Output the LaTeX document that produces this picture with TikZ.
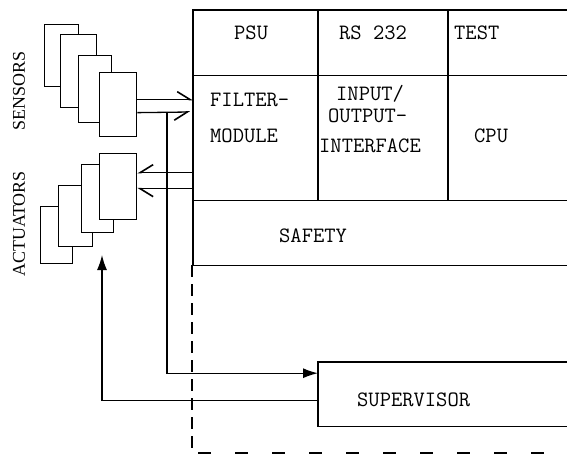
\documentclass[tikz,border=0pt]{standalone}
\usepackage{fontspec}
\setmainfont{Liberation Serif}
\usetikzlibrary{arrows.meta}
\begin{document}
\begin{tikzpicture}[x=1bp,y=-1bp,
  frame/.style={line width=1.5bp},
  unit/.style={draw, fill=white, line width=1.3bp, inner sep=0pt, anchor=north west},
  cell/.style={inner sep=0pt, anchor=north west},
  lbl/.style={font=\ttfamily\fontsize{22}{24}\selectfont, inner sep=0pt, anchor=base west},
  side/.style={font=\fontsize{18}{20}\selectfont, inner sep=0pt, rotate=90},
  barbl/.style={line width=1.3bp, -{Straight Barb[harpoon,length=13bp,width=16bp,line width=1.6bp]}},
  barbr/.style={line width=1.3bp, -{Straight Barb[harpoon,swap,length=13bp,width=16bp,line width=1.6bp]}},
  solidarrow/.style={line width=1.3bp, -{Latex[length=15bp,width=10bp]}}]
\useasboundingbox (0,0) rectangle (567,454);

% sensors
\node[unit, minimum width=34bp, minimum height=62bp] (s1) at (44,24) {};
\node[unit, minimum width=36bp, minimum height=73bp] (s2) at (60,34) {};
\node[unit, minimum width=33bp, minimum height=67bp] (s3) at (78,55) {};
\node[unit, minimum width=37bp, minimum height=64bp] (s4) at (99,72) {};
% actuators
\node[unit, minimum width=32bp, minimum height=57bp] (a4) at (40,206) {};
\node[unit, minimum width=34bp, minimum height=61bp] (a3) at (58,185) {};
\node[unit, minimum width=32bp, minimum height=68bp] (a2) at (81,164) {};
\node[unit, minimum width=37bp, minimum height=66bp] (a1) at (99,153) {};

\node[side] (sens) at (19,91) {SENSORS};
\node[side] (act) at (19,224) {ACTUATORS};

% main cells
\node[cell, minimum width=125bp, minimum height=65bp] (psu) at (193,10) {};
\node[cell, minimum width=130bp, minimum height=65bp] (rs) at (318,10) {};
\node[cell, minimum width=119bp, minimum height=65bp] (test) at (448,10) {};
\node[cell, minimum width=125bp, minimum height=125bp] (filter) at (193,75) {};
\node[cell, minimum width=130bp, minimum height=125bp] (io) at (318,75) {};
\node[cell, minimum width=119bp, minimum height=125bp] (cpu) at (448,75) {};
\node[cell, minimum width=374bp, minimum height=65bp] (safety) at (193,200) {};
\node[cell, minimum width=249bp, minimum height=64bp] (sup) at (318,362) {};

\draw[frame] (test.north east) -- (psu.north west) -- (safety.south west) -- (safety.south east);
\draw[frame] (psu.south west) -- (test.south east);
\draw[frame] (filter.south west) -- (cpu.south east);
\draw[frame] (rs.north west) -- (io.south west);
\draw[frame] (test.north west) -- (cpu.south west);
\draw[frame] (sup.north east) -- (sup.north west) -- (sup.south west) -- (sup.south east);

\coordinate (dl) at (192,265);
\coordinate (bl) at (192,454);
\coordinate (b1) at (198,453);
\coordinate (b2) at (567,453);
\draw[line width=1.4bp, dash pattern=on 12bp off 7bp] (dl) -- (bl);
\draw[line width=2.6bp, dash pattern=on 13bp off 24bp] (b1) -- (b2);

% texts
\node[lbl] (tpsu) at (234,40) {PSU};
\node[lbl] (trs) at (339,40) {RS 232};
\node[lbl] (ttest) at (454,40) {TEST};
\node[lbl] (tf1) at (210,107) {FILTER-};
\node[lbl] (tf2) at (210,143) {MODULE};
\node[lbl] (ti1) at (336,101) {INPUT/};
\node[lbl] (ti2) at (328,123) {OUTPUT-};
\node[lbl] (ti3) at (319,153) {INTERFACE};
\node[lbl] (tcpu) at (474,143) {CPU};
\node[lbl] (tsaf) at (279,243) {SAFETY};
\node[lbl] (tsup) at (357,406) {SUPERVISOR};

% connectors
\coordinate (sA) at ([yshift=5bp]s4.east);
\coordinate (sB) at ([yshift=-8bp]s4.east);
\coordinate (sBend) at (190,112);
\coordinate (j1) at (167,112);
\coordinate (aA) at ([yshift=14bp]a1.east);
\coordinate (aB) at ([yshift=-2bp]a1.east);
\coordinate (up) at (102,255);

\draw[barbl] (sA) -- (sA -| filter.west);
\draw[barbr] (sB) -- (sBend);
\draw[barbr] (aA -| filter.west) -- (aA);
\draw[barbl] (aB -| filter.west) -- (aB);
\draw[solidarrow] (j1) |- ([yshift=21bp]sup.west);
\draw[solidarrow] ([yshift=-6bp]sup.west) -| (up);
\end{tikzpicture}
\end{document}
